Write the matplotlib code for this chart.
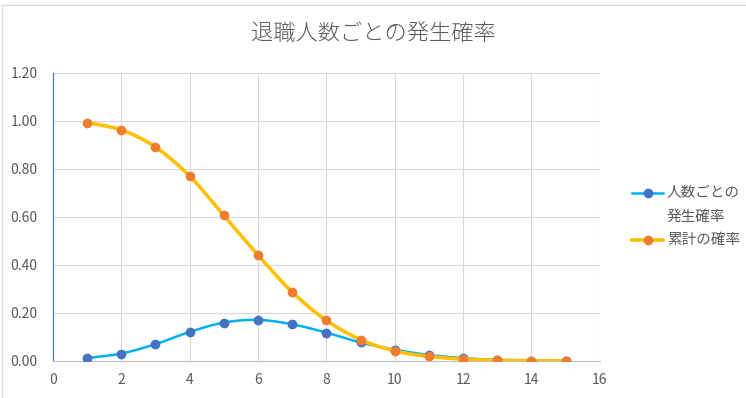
import numpy as np
import matplotlib
matplotlib.use("Agg")
import matplotlib.pyplot as plt
from matplotlib.lines import Line2D

plt.rcParams['font.family'] = ['Noto Sans CJK JP', 'DejaVu Sans']

x_vals = [1, 2, 3, 4, 5, 6, 7, 8, 9, 10, 11, 12, 13, 14, 15]
per_count = [0.012, 0.031, 0.070, 0.121, 0.160, 0.171, 0.153, 0.118, 0.077, 0.047, 0.025, 0.012, 0.005, 0.002, 0.001]
cumulative = [0.993, 0.962, 0.891, 0.770, 0.606, 0.441, 0.287, 0.169, 0.089, 0.042, 0.019, 0.008, 0.003, 0.001, 0.0]
title = "退職人数ごとの発生確率"
labels = ["人数ごとの", "発生確率", "累計の確率"]

def smooth(xs, ys, n=20):
    xs = np.asarray(xs, float); ys = np.asarray(ys, float)
    px = np.concatenate([[2*xs[0]-xs[1]], xs, [2*xs[-1]-xs[-2]]])
    py = np.concatenate([[2*ys[0]-ys[1]], ys, [2*ys[-1]-ys[-2]]])
    ox, oy = [], []
    for i in range(1, len(px)-2):
        t = np.linspace(0, 1, n, endpoint=False)
        for arr, out in ((px, ox), (py, oy)):
            p0, p1, p2, p3 = arr[i-1], arr[i], arr[i+1], arr[i+2]
            out.extend(0.5*((2*p1) + (-p0+p2)*t + (2*p0-5*p1+4*p2-p3)*t**2 + (-p0+3*p1-3*p2+p3)*t**3))
    ox.append(xs[-1]); oy.append(ys[-1])
    return np.array(ox), np.array(oy)

W, H = 746, 398
fig = plt.figure(figsize=(W/100, H/100), dpi=100)
ax = fig.add_axes([0.071, 0.093, 0.733, 0.724])

blue_line, blue_mk = '#00B0F0', '#4472C4'
org_line, org_mk = '#FFC000', '#ED7D31'

sx, sy = smooth(x_vals, per_count)
ax.plot(sx, sy, color=blue_line, lw=1.8, zorder=3)
ax.plot(x_vals, per_count, 'o', color=blue_mk, ms=6, zorder=4)
cx, cy = smooth(x_vals, cumulative)
ax.plot(cx, cy, color=org_line, lw=2.6, zorder=5)
ax.plot(x_vals, cumulative, 'o', color=org_mk, ms=6, zorder=6)

ax.set_xlim(0, 16)
ax.set_ylim(0, 1.2)
ax.set_xticks(np.arange(0, 17, 2))
yt = np.arange(0, 1.21, 0.2)
ax.set_yticks(yt)
ax.set_yticklabels([f"{v:.2f}" for v in yt])
ax.grid(True, color='#D9D9D9', lw=0.8)
ax.set_axisbelow(True)
for s in ['top', 'right']:
    ax.spines[s].set_visible(False)
ax.spines['left'].set_color('#4472C4')
ax.spines['bottom'].set_color('#BFBFBF')
ax.tick_params(axis='y', length=0, labelsize=10, colors='#595959', pad=11)
ax.tick_params(axis='x', length=0, labelsize=10, colors='#595959', pad=9)

fig.text(0.5, 1 - 34/H, title, ha='center', va='center', fontsize=16,
         fontweight='light', color='#595959')

# chart area border (top and left)
fig.add_artist(Line2D([1.5/W, 1], [1 - 4.5/H, 1 - 4.5/H], color='#D9D9D9', lw=1, transform=fig.transFigure))
fig.add_artist(Line2D([1.5/W, 1.5/W], [0, 1 - 4.5/H], color='#D9D9D9', lw=1, transform=fig.transFigure))

# legend (manual)
def leg_handle(ypix, lc, mc, lw):
    y = 1 - ypix/H
    fig.add_artist(Line2D([632/W, 663/W], [y, y], color=lc, lw=lw, transform=fig.transFigure))
    fig.add_artist(Line2D([648/W], [y], marker='o', color=mc, ms=6, transform=fig.transFigure))

leg_handle(193, blue_line, blue_mk, 1.8)
leg_handle(240, org_line, org_mk, 2.6)
for txt, ypix in zip(labels, [193, 217, 240]):
    fig.text(667/W, 1 - ypix/H, txt, ha='left', va='center', fontsize=10.5, color='#595959')

fig.savefig('out.png', dpi=100)
